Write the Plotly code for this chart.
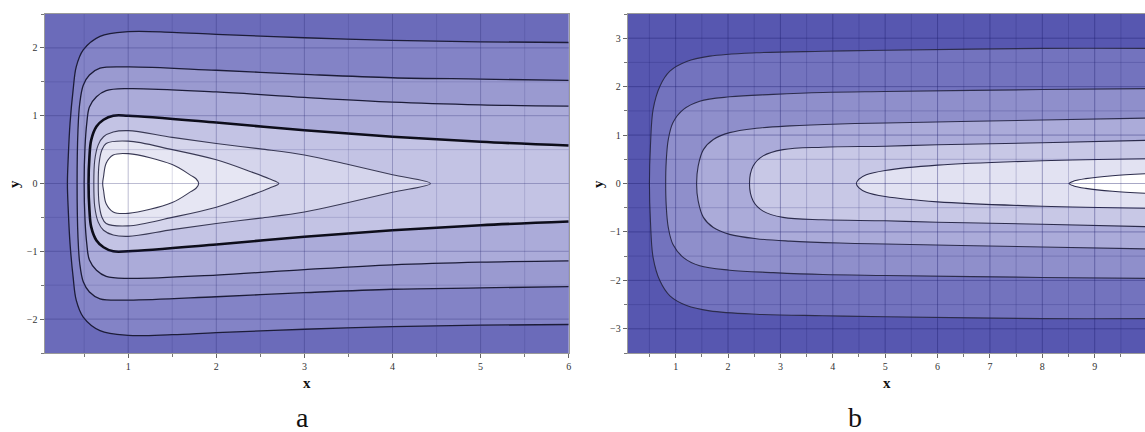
import numpy as np
import plotly.graph_objects as go

# ---------------- Panel a: contour curves (upper half, right end -> nose at y=0) ----------------
a_c1_x = [6.0, 5.0, 4.0, 3.0, 2.0, 1.5, 1.0, 0.68, 0.49, 0.41, 0.375, 0.34, 0.32, 0.31]
a_c1_y = [2.08, 2.09, 2.11, 2.15, 2.20, 2.23, 2.24, 2.17, 1.97, 1.72, 1.38, 0.89, 0.40, 0.0]
a_c2_x = [6.0, 5.0, 4.0, 3.0, 2.0, 1.0, 0.68, 0.56, 0.49, 0.45, 0.43, 0.42]
a_c2_y = [1.52, 1.54, 1.56, 1.61, 1.67, 1.72, 1.70, 1.60, 1.45, 1.18, 0.79, 0.0]
a_c3_x = [6.0, 5.0, 4.0, 3.0, 2.0, 1.0, 0.75, 0.64, 0.56, 0.53, 0.51, 0.50]
a_c3_y = [1.14, 1.16, 1.20, 1.27, 1.35, 1.40, 1.37, 1.28, 1.13, 0.89, 0.54, 0.0]
a_c4_x = [6.0, 5.0, 4.0, 3.0, 2.0, 1.0, 0.83, 0.72, 0.64, 0.58, 0.56, 0.55]
a_c4_y = [0.56, 0.615, 0.69, 0.785, 0.90, 1.0, 1.0, 0.94, 0.84, 0.64, 0.39, 0.0]
# closed loops (tip on y=0 -> nose at y=0)
a_c5_x = [4.43, 4.0, 3.5, 3.0, 2.5, 2.0, 1.5, 1.0, 0.83, 0.72, 0.66, 0.62, 0.61]
a_c5_y = [0.0, 0.13, 0.28, 0.42, 0.51, 0.59, 0.68, 0.78, 0.76, 0.69, 0.57, 0.34, 0.0]
a_c6_x = [2.71, 2.6, 2.4, 2.0, 1.5, 1.0, 0.75, 0.70, 0.67, 0.66]
a_c6_y = [0.0, 0.07, 0.17, 0.35, 0.50, 0.625, 0.59, 0.49, 0.30, 0.0]
a_c7_x = [1.80, 1.77, 1.71, 1.5, 1.0, 0.83, 0.75, 0.72, 0.71]
a_c7_y = [0.0, 0.07, 0.12, 0.28, 0.44, 0.42, 0.30, 0.10, 0.0]

# ---------------- Panel b ----------------
b_c1_x = [9.96, 8.0, 5.0, 3.81, 2.54, 1.65, 1.21, 0.89, 0.70, 0.57, 0.52, 0.50]
b_c1_y = [2.79, 2.79, 2.75, 2.73, 2.70, 2.63, 2.52, 2.32, 2.01, 1.53, 0.80, 0.0]
b_c2_x = [9.96, 8.0, 5.0, 3.81, 2.86, 2.03, 1.46, 1.15, 0.95, 0.86, 0.82, 0.81]
b_c2_y = [1.96, 1.94, 1.90, 1.88, 1.84, 1.79, 1.70, 1.53, 1.26, 0.91, 0.45, 0.0]
b_c3_x = [9.96, 8.0, 5.0, 4.13, 3.18, 2.54, 2.03, 1.72, 1.53, 1.43, 1.40]
b_c3_y = [1.35, 1.31, 1.25, 1.23, 1.19, 1.14, 1.05, 0.91, 0.70, 0.36, 0.0]
b_c4_x = [9.96, 8.0, 6.0, 5.0, 3.81, 3.05, 2.67, 2.48, 2.41]
b_c4_y = [0.89, 0.84, 0.80, 0.77, 0.75, 0.70, 0.57, 0.36, 0.0]
b_c5_x = [9.96, 8.0, 6.0, 5.0, 4.64, 4.50, 4.45]
b_c5_y = [0.51, 0.47, 0.38, 0.27, 0.18, 0.09, 0.0]
b_c6_x = [9.96, 9.34, 8.83, 8.60, 8.51]
b_c6_y = [0.20, 0.16, 0.10, 0.05, 0.0]

# axis ranges and ticks
a_xrange = [0.05, 6.0]
a_yrange = [-2.5, 2.5]
b_xrange = [0.085, 9.96]
b_yrange = [-3.5, 3.5]
a_xticks = [1, 2, 3, 4, 5, 6]
a_yticks = [-2, -1, 0, 1, 2]
b_xticks = [1, 2, 3, 4, 5, 6, 7, 8, 9]
b_yticks = [-3, -2, -1, 0, 1, 2, 3]

a_band_colors = ['#6b6bba', '#8383c6', '#9a9ad0', '#ababd9', '#c3c3e4', '#d5d5ec', '#e6e6f3', '#ffffff']
b_band_colors = ['#5757b0', '#7373be', '#8f8fcb', '#ababd9', '#c8c8e6', '#e2e2f2', '#ffffff']


def mirror(xs, ys):
    x = list(xs) + list(xs[-2::-1])
    y = list(ys) + [-v for v in ys[-2::-1]]
    return x, y


fig = go.Figure()

a_curves = [(a_c1_x, a_c1_y), (a_c2_x, a_c2_y), (a_c3_x, a_c3_y), (a_c4_x, a_c4_y),
            (a_c5_x, a_c5_y), (a_c6_x, a_c6_y), (a_c7_x, a_c7_y)]
b_curves = [(b_c1_x, b_c1_y), (b_c2_x, b_c2_y), (b_c3_x, b_c3_y), (b_c4_x, b_c4_y),
            (b_c5_x, b_c5_y), (b_c6_x, b_c6_y)]

SM = 1.0
# fills
for i, (cx, cy) in enumerate(a_curves):
    x, y = mirror(cx, cy)
    fig.add_trace(go.Scatter(x=x, y=y, mode='lines', fill='toself',
                             fillcolor=a_band_colors[i + 1],
                             line=dict(width=0, shape='spline', smoothing=SM),
                             hoverinfo='skip', showlegend=False, xaxis='x', yaxis='y'))
for i, (cx, cy) in enumerate(b_curves):
    x, y = mirror(cx, cy)
    fig.add_trace(go.Scatter(x=x, y=y, mode='lines', fill='toself',
                             fillcolor=b_band_colors[i + 1],
                             line=dict(width=0, shape='spline', smoothing=SM),
                             hoverinfo='skip', showlegend=False, xaxis='x2', yaxis='y2'))

# contour lines
a_line_w = [1.3, 1.3, 1.3, 2.6, 1.1, 1.1, 1.1]
a_line_c = ['#1c1c38', '#1c1c38', '#1c1c38', '#0d0d1a', '#3a3a55', '#3a3a55', '#3a3a55']
for i, (cx, cy) in enumerate(a_curves):
    x, y = mirror(cx, cy)
    fig.add_trace(go.Scatter(x=x, y=y, mode='lines',
                             line=dict(width=a_line_w[i], color=a_line_c[i], shape='spline', smoothing=SM),
                             hoverinfo='skip', showlegend=False, xaxis='x', yaxis='y'))
for i, (cx, cy) in enumerate(b_curves):
    x, y = mirror(cx, cy)
    fig.add_trace(go.Scatter(x=x, y=y, mode='lines',
                             line=dict(width=1.1, color='#2c2c4c', shape='spline', smoothing=SM),
                             hoverinfo='skip', showlegend=False, xaxis='x2', yaxis='y2'))

shapes = []
# outer band backgrounds
shapes.append(dict(type='rect', xref='x domain', yref='y domain', x0=0, x1=1, y0=0, y1=1,
                   fillcolor=a_band_colors[0], line=dict(width=0), layer='below'))
shapes.append(dict(type='rect', xref='x2 domain', yref='y2 domain', x0=0, x1=1, y0=0, y1=1,
                   fillcolor=b_band_colors[0], line=dict(width=0), layer='below'))


def grid(xr, yr, xref, yref, major_c, minor_c):
    out = []
    for v in np.arange(0.5, xr[1], 0.5):
        if v <= xr[0]:
            continue
        c = major_c if float(v).is_integer() else minor_c
        out.append(dict(type='line', xref=xref, yref=yref + ' domain', x0=v, x1=v, y0=0, y1=1,
                        line=dict(color=c, width=1), layer='above'))
    for v in np.arange(np.ceil(yr[0] * 2) / 2, yr[1] + 0.01, 0.5):
        if v <= yr[0] or v >= yr[1]:
            continue
        c = major_c if float(v).is_integer() else minor_c
        out.append(dict(type='line', xref=xref + ' domain', yref=yref, x0=0, x1=1, y0=v, y1=v,
                        line=dict(color=c, width=1), layer='above'))
    return out


shapes += grid(a_xrange, a_yrange, 'x', 'y', 'rgba(35,35,110,0.30)', 'rgba(35,35,110,0.16)')
shapes += grid(b_xrange, b_yrange, 'x2', 'y2', 'rgba(25,25,105,0.38)', 'rgba(25,25,105,0.20)')

W, H = 1145, 432
a_dom = [44.5 / W, 568.7 / W]
b_dom = [627.7 / W, 1.0]
y_dom = [1 - 353 / H, 1 - 14 / H]

tickfont = dict(family='Liberation Serif, Times New Roman, serif', size=10, color='#333333')
axcommon = dict(showgrid=False, zeroline=False, showline=True, mirror=True, linecolor='#9a9a9a',
                linewidth=1, ticks='outside', ticklen=4, tickcolor='#666666', tickfont=tickfont,
                automargin=False, fixedrange=True,
                minor=dict(dtick=0.5, ticks='outside', ticklen=3, tickcolor='#777777', showgrid=False))

fig.update_layout(
    width=W, height=H,
    margin=dict(l=0, r=0, t=0, b=0),
    paper_bgcolor='white', plot_bgcolor='white',
    xaxis=dict(domain=a_dom, range=a_xrange, tickvals=a_xticks, anchor='y', **axcommon),
    yaxis=dict(domain=y_dom, range=a_yrange, tickvals=a_yticks, anchor='x', **axcommon),
    xaxis2=dict(domain=b_dom, range=b_xrange, tickvals=b_xticks, anchor='y2', **axcommon),
    yaxis2=dict(domain=y_dom, range=b_yrange, tickvals=b_yticks, anchor='x2', **axcommon),
    shapes=shapes,
)

titlefont = dict(family='Liberation Serif, Times New Roman, serif', size=15, color='#111111')
labfont = dict(family='Liberation Serif, Times New Roman, serif', size=28, color='#111111')
ann = [
    dict(text='<b>x</b>', x=(44.5 + 568.7) / 2 / W, y=1 - 383 / H, xref='paper', yref='paper',
         showarrow=False, font=titlefont, xanchor='center', yanchor='middle'),
    dict(text='<b>y</b>', x=14 / W, y=1 - 184 / H, xref='paper', yref='paper', textangle=-90,
         showarrow=False, font=titlefont, xanchor='center', yanchor='middle'),
    dict(text='<b>x</b>', x=887 / W, y=1 - 383 / H, xref='paper', yref='paper',
         showarrow=False, font=titlefont, xanchor='center', yanchor='middle'),
    dict(text='<b>y</b>', x=598 / W, y=1 - 184 / H, xref='paper', yref='paper', textangle=-90,
         showarrow=False, font=titlefont, xanchor='center', yanchor='middle'),
    dict(text='a', x=302 / W, y=-2 / H, xref='paper', yref='paper', borderpad=0,
         showarrow=False, font=labfont, xanchor='center', yanchor='bottom'),
    dict(text='b', x=855 / W, y=-2 / H, xref='paper', yref='paper', borderpad=0,
         showarrow=False, font=labfont, xanchor='center', yanchor='bottom'),
]
fig.update_layout(annotations=ann)

fig.write_html('out.html', config={'displayModeBar': False},
               post_script="document.body.style.margin='0';document.body.style.overflow='hidden';")
